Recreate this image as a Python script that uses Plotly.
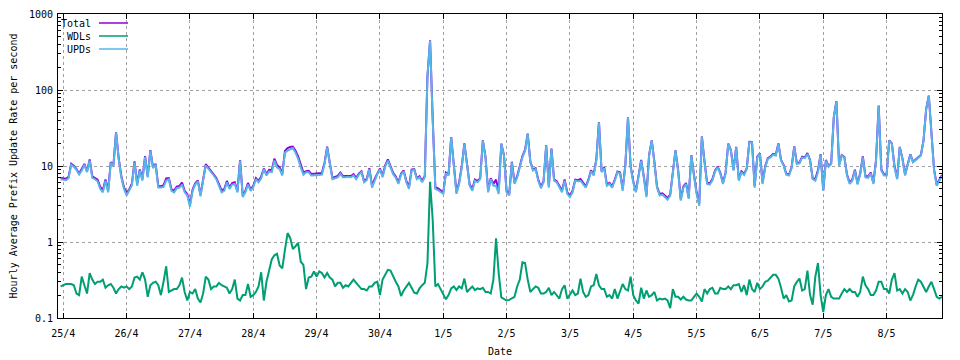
import plotly.graph_objects as go
import pandas as pd

# ---------------- data (hourly, starting 24/4 23:00) ----------------
START = "2016-04-24 23:00"

upds = [
    6.7, 6.6, 6.5, 6.9, 10.4, 9.8, 8.9, 7.7, 8.7, 10.4, 8.3, 11.8, 7.0, 6.7, 6.3, 5.0, 4.5, 6.4, 4.5, 11.0, 10.0, 27.7, 12.4, 7.1, 5.0,
    4.1, 4.7, 5.6, 11.2, 5.5, 8.7, 6.4, 13.2, 7.1, 15.9, 9.4, 10.4, 5.2, 5.2, 5.3, 6.4, 6.7, 4.7, 4.5, 5.1, 5.2, 5.7, 4.5, 4.1,
    2.9, 4.7, 5.7, 6.3, 4.0, 6.5, 10.2, 9.2, 8.4, 7.5, 6.7, 5.5, 4.5, 4.7, 6.1, 5.0, 5.7, 5.8, 4.5, 11.8, 3.9, 4.5, 5.7, 4.7,
    5.3, 6.7, 6.1, 6.9, 9.1, 7.5, 8.5, 8.3, 11.8, 9.6, 9.1, 7.5, 15.0, 15.9, 16.7, 17.2, 15.0, 12.4, 9.6, 7.7, 8.3, 8.3, 7.5, 7.5,
    7.5, 7.6, 7.7, 10.6, 17.6, 10.6, 6.7, 6.9, 7.1, 7.9, 7.1, 7.1, 7.2, 7.1, 7.5, 6.7, 7.7, 8.3, 6.1, 6.5, 9.1, 5.2, 6.5, 7.8,
    9.1, 7.1, 9.8, 11.8, 9.6, 7.8, 7.0, 5.8, 7.7, 8.5, 6.1, 5.0, 8.7, 8.9, 6.7, 7.1, 6.1, 7.1, 150, 445, 40, 5.0, 4.8, 4.6,
    4.3, 8.0, 7.5, 23.8, 10.6, 4.3, 5.8, 9.6, 19.5, 9.6, 5.5, 4.7, 6.4, 6.1, 6.7, 21.5, 13.0, 4.5, 6.7, 5.5, 5.5, 4.3, 19.5, 13.7,
    4.5, 4.1, 11.2, 5.8, 7.1, 9.6, 13.0, 15.9, 26.3, 11.2, 8.7, 9.1, 6.4, 5.1, 6.1, 18.5, 5.2, 16.7, 6.4, 6.1, 5.2, 4.5, 6.4, 4.3,
    3.9, 4.5, 6.4, 6.3, 6.4, 5.8, 5.2, 6.4, 8.5, 7.5, 11.8, 37.5, 8.3, 9.4, 5.5, 5.8, 5.2, 6.4, 8.3, 8.0, 4.7, 10.1, 43.6, 9.6,
    6.1, 4.5, 7.8, 11.8, 7.1, 3.9, 13.7, 21.5, 11.2, 5.2, 4.1, 4.2, 3.9, 3.6, 4.1, 8.9, 15.9, 8.7, 3.5, 5.2, 5.8, 3.7, 13.7, 7.5,
    4.3, 3.0, 24.3, 11.2, 5.8, 5.7, 6.5, 8.5, 9.6, 7.9, 5.8, 8.0, 19.5, 15.9, 8.7, 17.6, 6.4, 8.3, 7.6, 9.1, 20.5, 20.5, 5.2, 13.0,
    14.4, 5.8, 9.6, 12.4, 13.0, 14.1, 13.7, 19.5, 11.8, 10.1, 7.7, 7.5, 9.4, 17.9, 10.6, 10.8, 13.0, 12.7, 14.4, 11.8, 6.7, 6.4, 8.3, 14.1,
    4.7, 11.8, 9.8, 10.6, 43.7, 71, 10.1, 13.7, 13.0, 7.5, 5.8, 6.4, 8.7, 5.7, 7.8, 13.0, 7.1, 7.0, 8.0, 5.8, 11.8, 62, 8.7, 7.5,
    7.5, 21.5, 19.5, 9.6, 6.7, 17.6, 12.4, 7.5, 10.1, 14.1, 11.2, 12.0, 13.0, 13.7, 21.5, 56, 84, 30, 8.7, 5.5, 6.4, 7.4,
]

wdls = [
    0.26, 0.27, 0.28, 0.28, 0.28, 0.27, 0.21, 0.20, 0.35, 0.27, 0.21, 0.39, 0.32, 0.28, 0.30, 0.30, 0.32, 0.25, 0.27, 0.28, 0.25, 0.21, 0.24, 0.26, 0.25,
    0.26, 0.24, 0.26, 0.34, 0.35, 0.32, 0.40, 0.32, 0.19, 0.27, 0.29, 0.30, 0.27, 0.20, 0.30, 0.48, 0.22, 0.23, 0.24, 0.24, 0.27, 0.34, 0.22, 0.17,
    0.22, 0.21, 0.24, 0.18, 0.16, 0.21, 0.35, 0.32, 0.24, 0.26, 0.26, 0.29, 0.27, 0.26, 0.25, 0.21, 0.24, 0.32, 0.18, 0.17, 0.20, 0.20, 0.28, 0.19,
    0.20, 0.22, 0.26, 0.40, 0.17, 0.30, 0.41, 0.59, 0.67, 0.70, 0.49, 0.45, 0.79, 1.31, 1.13, 0.81, 0.88, 0.97, 0.55, 0.50, 0.24, 0.34, 0.35, 0.41,
    0.35, 0.41, 0.39, 0.34, 0.39, 0.34, 0.32, 0.26, 0.29, 0.29, 0.25, 0.27, 0.26, 0.29, 0.32, 0.29, 0.26, 0.24, 0.24, 0.23, 0.26, 0.26, 0.29, 0.30,
    0.20, 0.32, 0.37, 0.43, 0.42, 0.35, 0.30, 0.26, 0.195, 0.23, 0.26, 0.29, 0.25, 0.215, 0.21, 0.245, 0.27, 0.29, 0.52, 6.2, 1.95, 0.26, 0.28, 0.24,
    0.21, 0.176, 0.20, 0.245, 0.26, 0.233, 0.26, 0.245, 0.33, 0.22, 0.24, 0.26, 0.233, 0.245, 0.24, 0.25, 0.22, 0.22, 0.21, 0.32, 1.12, 0.39, 0.187, 0.176,
    0.17, 0.173, 0.18, 0.19, 0.26, 0.32, 0.54, 0.53, 0.32, 0.22, 0.24, 0.26, 0.25, 0.21, 0.21, 0.22, 0.25, 0.20, 0.22, 0.20, 0.18, 0.24, 0.27, 0.18,
    0.20, 0.23, 0.20, 0.21, 0.33, 0.22, 0.19, 0.20, 0.26, 0.27, 0.38, 0.27, 0.24, 0.24, 0.19, 0.20, 0.18, 0.24, 0.18, 0.23, 0.28, 0.24, 0.23, 0.35,
    0.20, 0.17, 0.155, 0.25, 0.18, 0.23, 0.19, 0.20, 0.22, 0.17, 0.18, 0.175, 0.18, 0.17, 0.135, 0.24, 0.19, 0.19, 0.175, 0.19, 0.175, 0.17, 0.17, 0.19,
    0.21, 0.19, 0.165, 0.24, 0.21, 0.24, 0.25, 0.21, 0.21, 0.25, 0.24, 0.24, 0.26, 0.24, 0.27, 0.27, 0.28, 0.22, 0.27, 0.20, 0.32, 0.24, 0.22, 0.29,
    0.24, 0.26, 0.30, 0.31, 0.34, 0.37, 0.37, 0.33, 0.25, 0.18, 0.20, 0.165, 0.17, 0.26, 0.30, 0.33, 0.23, 0.24, 0.42, 0.20, 0.15, 0.35, 0.53, 0.20,
    0.12, 0.20, 0.24, 0.19, 0.18, 0.18, 0.18, 0.21, 0.24, 0.22, 0.24, 0.22, 0.22, 0.19, 0.22, 0.35, 0.27, 0.24, 0.20, 0.20, 0.23, 0.30, 0.30, 0.24,
    0.24, 0.21, 0.32, 0.39, 0.23, 0.24, 0.21, 0.24, 0.22, 0.17, 0.20, 0.26, 0.32, 0.30, 0.26, 0.22, 0.26, 0.30, 0.24, 0.19, 0.18, 0.19,
]

# Total = UPDs + WDLs
total = [u + w for u, w in zip(upds, wdls)]

day_labels = ["25/4", "26/4", "27/4", "28/4", "29/4", "30/4", "1/5",
              "2/5", "3/5", "4/5", "5/5", "6/5", "7/5", "8/5"]
y_tick_vals = [0.1, 1, 10, 100, 1000]
y_tick_text = ["0.1", "1", "10", "100", "1000"]

series_names = ["Total", "WDLs", "UPDs"]
series_colors = ["#9400d3", "#009e73", "#56b4e9"]

# ---------------- figure ----------------
n = min(len(upds), len(wdls))
times = pd.date_range(START, periods=n, freq="h")
day_ticks = pd.date_range("2016-04-25", periods=len(day_labels), freq="D")
minor_vals = [k * 10.0 ** e for e in range(-1, 3) for k in range(2, 10)]

FONT = "DejaVu Sans Mono"
BODY = 8                      # default page margin around the plot div
W, H = 960 - BODY, 360 - BODY
ML, MR, MT, MB = 58 - BODY, 18, 14 - BODY, 42
PW, PH = W - ML - MR, H - MT - MB
ABS_LEFT, ABS_BOTTOM = ML + BODY, MT + BODY + PH

fig = go.Figure()
for name, data, col in zip(series_names, [total, wdls, upds], series_colors):
    fig.add_trace(go.Scatter(x=times, y=data[:n], mode="lines", name=name,
                             line=dict(color=col, width=2), showlegend=False))

axis_common = dict(showline=True, linecolor="black", linewidth=1, mirror="ticks",
                   ticks="inside", ticklen=5, tickcolor="black", tickwidth=1,
                   showgrid=True, gridcolor="#a0a0a0", gridwidth=1, griddash="3px,3px",
                   zeroline=False, automargin=False,
                   tickfont=dict(family=FONT, size=10, color="black"))

fig.update_xaxes(**axis_common, type="date",
                 range=["2016-04-24 22:00", "2016-05-08 21:00"],
                 tickmode="array", tickvals=day_ticks, ticktext=day_labels,
                 ticklabelstandoff=6,
                 title=dict(text="Date", font=dict(family=FONT, size=10, color="black"), standoff=9))
fig.update_yaxes(**axis_common, type="log", range=[-1, 3],
                 tickmode="array", tickvals=y_tick_vals, ticktext=y_tick_text,
                 ticklabelstandoff=2,
                 minor=dict(tickmode="array", tickvals=minor_vals, ticks="inside",
                            ticklen=3, tickcolor="black", showgrid=False),
                 title=dict(text="Hourly Average Prefix Update Rate per second",
                            font=dict(family=FONT, size=10, color="black"), standoff=11))

# gnuplot-style key: right-aligned label, sample line to the right
def px(xp):
    return (xp - ABS_LEFT) / PW

def py(yp):
    return (ABS_BOTTOM - yp) / PH

for i, (name, col) in enumerate(zip(series_names, series_colors)):
    yy = 23.5 + 13 * i
    fig.add_annotation(x=px(93), y=py(yy), xref="paper", yref="paper", text=name,
                       showarrow=False, xanchor="right", yanchor="middle",
                       font=dict(family=FONT, size=10, color="black"))
    fig.add_shape(type="line", xref="paper", yref="paper",
                  x0=px(99), x1=px(128), y0=py(yy - 0.5), y1=py(yy - 0.5),
                  line=dict(color=col, width=1.5))

fig.update_layout(width=W, height=H, margin=dict(l=ML, r=MR, t=MT, b=MB),
                  paper_bgcolor="white", plot_bgcolor="white",
                  font=dict(family=FONT, size=10, color="black"))

fig.write_html("out.html")
